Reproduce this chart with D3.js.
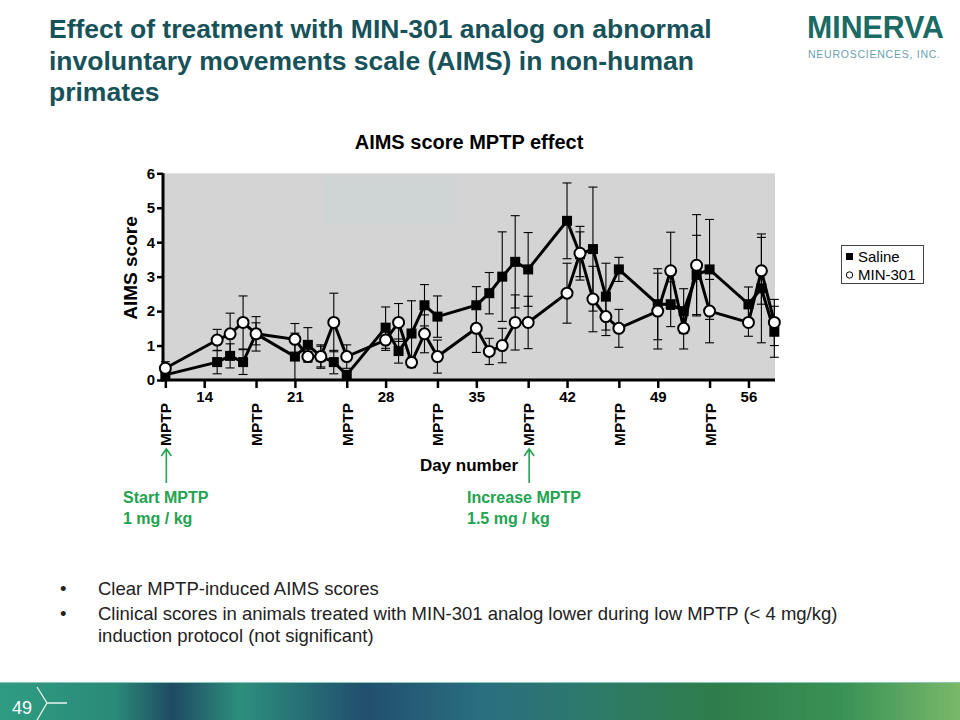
<!DOCTYPE html>
<html><head><meta charset="utf-8">
<script src="https://cdn.jsdelivr.net/npm/d3@7"></script>
<style>body{margin:0;background:#fff;}svg{display:block;font-family:Arial,"Liberation Sans",sans-serif;}</style>
</head><body>
<svg id="c" width="960" height="720"></svg>
<script>
const days = [11,15,16,17,18,21,22,23,24,25,28,29,30,31,32,35,36,37,38,39,42,43,44,45,46,49,50,51,52,53,56,57,58];
const saline = [0.15,0.52,0.70,0.52,1.34,0.68,1.02,0.68,0.52,0.15,1.52,0.84,1.35,2.17,1.84,2.17,2.52,3.0,3.43,3.21,4.62,3.65,3.80,2.42,3.21,2.2,2.2,2.0,3.05,3.21,2.2,2.66,1.4];
const salineErr = [0.12,0.34,0.35,0.36,0.32,0.68,0.5,0.3,0.34,0.1,0.6,0.35,0.95,0.6,0.6,0.54,0.6,1.3,1.34,1.07,1.1,0.65,1.8,0.97,0.35,1.03,0.65,0.65,1.15,1.45,0.5,1.58,0.74];
const min301 = [0.34,1.16,1.34,1.67,1.34,1.18,0.68,0.68,1.67,0.68,1.16,1.67,0.51,1.34,0.68,1.5,0.83,1.0,1.67,1.67,2.52,3.68,2.35,1.84,1.5,2.0,3.17,1.5,3.33,2.0,1.67,3.17,1.67];
const min301Err = [0.19,0.31,0.6,0.77,0.5,0.46,0.15,0.34,0.85,0.34,0.3,0.55,0.15,0.55,0.48,0.7,0.38,0.5,0.8,0.76,0.87,0.78,0.95,0.55,0.55,1.1,1.12,0.6,1.47,0.92,0.4,0.97,0.67];
const labelTicks = [14,21,28,35,42,49,56];
const mptpDays = [11,18,25,32,39,46,53];
const yTicks = [0,1,2,3,4,5,6];
const titleLines = ["Effect of treatment with MIN-301 analog on abnormal","involuntary movements scale (AIMS) in non-human","primates"];
const bullets = [["Clear MPTP-induced AIMS scores"],["Clinical scores in animals treated with MIN-301 analog lower during low MPTP (< 4 mg/kg)","induction protocol (not significant)"]];

const svg = d3.select("#c");
const x = d3.scaleLinear().domain([10.82, 58.05]).range([163, 775]);
const y = d3.scaleLinear().domain([0, 6]).range([380, 173.3]);
const green = "#22a34f";

// Slide title
const tt = svg.append("text").attr("x",49).attr("y",38).attr("fill","#17525a")
  .attr("font-size",26.5).attr("font-weight","bold");
titleLines.forEach((l,i)=>tt.append("tspan").attr("x",49).attr("y",38+i*31.5).text(l));

// Logo
svg.append("text").attr("x",807).attr("y",38).attr("fill","#1b6b65").attr("font-size",31)
  .attr("font-weight","bold").attr("textLength",137).attr("lengthAdjust","spacingAndGlyphs").text("MINERVA");
svg.append("text").attr("x",808).attr("y",58).attr("fill","#6a9fb0").attr("font-size",10.5)
  .attr("textLength",132).attr("lengthAdjust","spacing").text("NEUROSCIENCES, INC.");

// Chart title
svg.append("text").attr("x",469).attr("y",149).attr("text-anchor","middle").attr("font-size",20)
  .attr("font-weight","bold").attr("fill","#000").text("AIMS score MPTP effect");

// Plot background
svg.append("rect").attr("x",x.range()[0]).attr("y",y(6)).attr("width",x.range()[1]-x.range()[0])
  .attr("height",y(0)-y(6)).attr("fill","#d4d4d4");
svg.append("rect").attr("x",323).attr("y",177).attr("width",133).attr("height",48).attr("fill","#cfd5d5");

// Axes
const yAxis = svg.append("g").attr("transform","translate(163,0)")
  .call(d3.axisLeft(y).tickValues(yTicks).tickSize(6).tickPadding(2).tickFormat(d3.format("d")));
yAxis.select(".domain").attr("stroke-width",3).attr("d",`M0,${y(0)+1.5}V${y(6)}`);
yAxis.selectAll(".tick line").attr("stroke-width",2.5);
yAxis.selectAll("text").attr("font-size",15).attr("font-weight","bold").attr("font-family","Arial,Liberation Sans,sans-serif").attr("fill","#000");

const allTicks = labelTicks.concat(mptpDays).sort((a,b)=>a-b);
const xAxis = svg.append("g").attr("transform","translate(0,380)")
  .call(d3.axisBottom(x).tickValues(allTicks).tickSize(8).tickPadding(3)
    .tickFormat(d=>labelTicks.includes(d)?d:""));
xAxis.select(".domain").attr("stroke-width",3).attr("d",`M${x.range()[0]-1.5},0H${x.range()[1]}`);
xAxis.selectAll(".tick line").attr("stroke-width",2.5);
xAxis.selectAll("text").attr("font-size",15).attr("font-weight","bold").attr("font-family","Arial,Liberation Sans,sans-serif").attr("fill","#000");

// MPTP labels
svg.append("g").selectAll("text").data(mptpDays).join("text")
  .attr("transform",d=>`translate(${x(d)+6},446) rotate(-90)`)
  .attr("font-size",15.5).attr("font-weight","bold").text("MPTP");

// Axis titles
svg.append("text").attr("transform","translate(137,268) rotate(-90)").attr("text-anchor","middle")
  .attr("font-size",19).attr("font-weight","bold").text("AIMS score");
svg.append("text").attr("x",469).attr("y",471).attr("text-anchor","middle")
  .attr("font-size",17).attr("font-weight","bold").text("Day number");

// Error bars
function errBars(vals, errs){
  const g = svg.append("g").attr("stroke","#000").attr("stroke-width",1.1);
  days.forEach((d,i)=>{
    const cx=x(d), lo=y(Math.max(0,vals[i]-errs[i])), hi=y(vals[i]+errs[i]);
    g.append("line").attr("x1",cx).attr("x2",cx).attr("y1",lo).attr("y2",hi);
    g.append("line").attr("x1",cx-4.5).attr("x2",cx+4.5).attr("y1",hi).attr("y2",hi);
    if(vals[i]-errs[i]>0) g.append("line").attr("x1",cx-4.5).attr("x2",cx+4.5).attr("y1",lo).attr("y2",lo);
  });
}
errBars(saline, salineErr);
errBars(min301, min301Err);

const line = d3.line().x((d,i)=>x(days[i])).y(d=>y(d));
svg.append("path").datum(saline).attr("d",line).attr("fill","none").attr("stroke","#000").attr("stroke-width",3);
svg.append("path").datum(min301).attr("d",line).attr("fill","none").attr("stroke","#000").attr("stroke-width",3);

svg.append("g").selectAll("rect").data(saline).join("rect")
  .attr("x",(d,i)=>x(days[i])-5).attr("y",d=>y(d)-5).attr("width",10).attr("height",10).attr("fill","#000");
svg.append("g").selectAll("circle").data(min301).join("circle")
  .attr("cx",(d,i)=>x(days[i])).attr("cy",d=>y(d)).attr("r",5.5)
  .attr("fill","#fff").attr("stroke","#000").attr("stroke-width",2);

// Legend
svg.append("rect").attr("x",841.5).attr("y",245.5).attr("width",82).attr("height",38)
  .attr("fill","#fff").attr("stroke","#444").attr("stroke-width",1);
svg.append("rect").attr("x",846).attr("y",253).attr("width",7).attr("height",7).attr("fill","#000");
svg.append("text").attr("x",858).attr("y",262).attr("font-size",15).text("Saline");
svg.append("circle").attr("cx",849.5).attr("cy",275).attr("r",3.2).attr("fill","#fff").attr("stroke","#000").attr("stroke-width",1);
svg.append("text").attr("x",858).attr("y",280).attr("font-size",15).text("MIN-301");

// Green annotations
const ann = [{day:11, lines:["Start MPTP","1 mg / kg"], tx:123},{day:39, lines:["Increase MPTP","1.5 mg / kg"], tx:467}];
ann.forEach(a=>{
  const ax = x(a.day)+1;
  svg.append("line").attr("x1",ax).attr("x2",ax).attr("y1",449).attr("y2",483).attr("stroke",green).attr("stroke-width",1.6);
  svg.append("path").attr("d",`M${ax-5},456L${ax},449L${ax+5},456`).attr("fill","none").attr("stroke",green).attr("stroke-width",1.6);
  a.lines.forEach((l,i)=>svg.append("text").attr("x",a.tx).attr("y",503+i*21).attr("fill",green)
    .attr("font-size",16).attr("font-weight","bold").text(l));
});

// Bullets
let by = 595;
bullets.forEach(b=>{
  svg.append("text").attr("x",60).attr("y",by).attr("font-size",18.5).attr("fill","#222").text("•");
  b.forEach((l,i)=>{svg.append("text").attr("x",98).attr("y",by+i*22).attr("font-size",18.5).attr("fill","#222").text(l);});
  by += 22*b.length + 3;
});

// Footer
const defs = svg.append("defs");
const grad = defs.append("linearGradient").attr("id","fg").attr("x1","0").attr("x2","1");
[[0,"#2f9c82"],[0.12,"#2a8a78"],[0.18,"#1f4a63"],[0.25,"#2d8f7c"],[0.38,"#214f6e"],[0.5,"#2a6e80"],[0.62,"#2d7a6a"],[0.75,"#2f7d4a"],[0.88,"#3a9256"],[1,"#7ab86a"]]
  .forEach(s=>grad.append("stop").attr("offset",s[0]).attr("stop-color",s[1]));
svg.append("rect").attr("x",0).attr("y",682).attr("width",960).attr("height",38).attr("fill","url(#fg)");
svg.append("line").attr("x1",0).attr("x2",960).attr("y1",682.5).attr("y2",682.5).attr("stroke","#8cc7b5").attr("stroke-width",1);
svg.append("text").attr("x",12).attr("y",714).attr("fill","#fff").attr("font-size",18).text("49");
svg.append("path").attr("d","M37,687L47,703L37,720M47,703H67").attr("fill","none").attr("stroke","#e8f4ef").attr("stroke-width",1.3);
</script>
</body></html>
